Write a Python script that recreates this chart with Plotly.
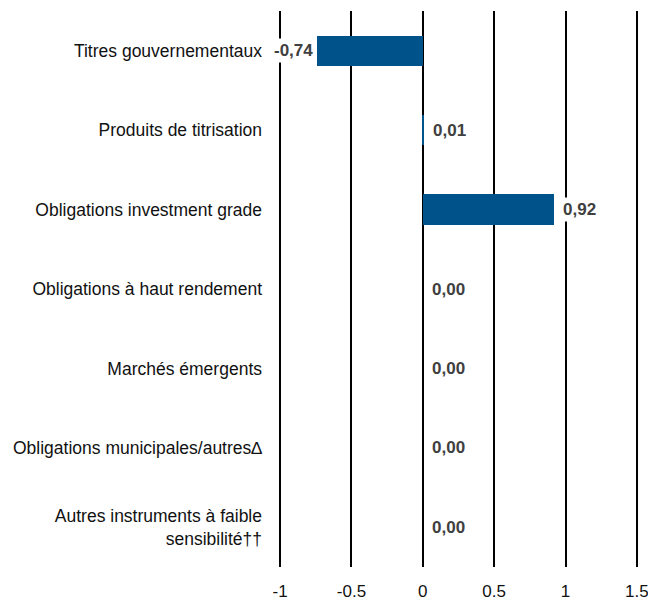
import plotly.graph_objects as go

categories = [
    "Titres gouvernementaux",
    "Produits de titrisation",
    "Obligations investment grade",
    "Obligations à haut rendement",
    "Marchés émergents",
    "Obligations municipales/autres∆",
    "Autres instruments à faible<br>sensibilité††",
]
values = [-0.74, 0.01, 0.92, 0.00, 0.00, 0.00, 0.00]
value_labels = ["-0,74", "0,01", "0,92", "0,00", "0,00", "0,00", "0,00"]
tick_vals = [-1, -0.5, 0, 0.5, 1, 1.5]
tick_text = ["-1", "-0.5", "0", "0.5", "1", "1.5"]

FONT = "Liberation Sans, Arial, sans-serif"
BAR = "#00538A"

fig = go.Figure()
fig.add_trace(go.Bar(
    x=values, y=categories, orientation="h",
    marker=dict(color=BAR, line=dict(width=0)),
    width=0.38, hoverinfo="skip",
))

for c, v, t in zip(categories, values, value_labels):
    neg = v < 0
    fig.add_annotation(
        x=v, y=c, xref="x", yref="y", text="<b>" + t + "</b>",
        showarrow=False, xanchor="right" if neg else "left",
        xshift=-1 if neg else 6, bgcolor="white", borderpad=2,
        font=dict(family=FONT, size=17, color="#404040"),
    )

fig.update_layout(
    width=648, height=600,
    margin=dict(l=273, r=4, t=11, b=33),
    paper_bgcolor="white", plot_bgcolor="white",
    showlegend=False, bargap=0, hovermode=False,
    font=dict(family=FONT, size=17.5, color="#111111"),
)
fig.update_xaxes(
    range=[-1.05, 1.55], tickvals=tick_vals, ticktext=tick_text,
    showgrid=True, gridcolor="black", gridwidth=2,
    zeroline=True, zerolinecolor="black", zerolinewidth=2,
    showline=False, ticks="", ticklabelstandoff=12, automargin=False,
    ticklabeloverflow="allow",
    tickfont=dict(family=FONT, size=17, color="#111111"),
)
fig.update_yaxes(
    categoryorder="array", categoryarray=categories[::-1],
    showgrid=False, zeroline=False, showline=False, ticks="",
    ticklabelstandoff=10, automargin=False, ticklabeloverflow="allow",
    tickfont=dict(family=FONT, size=17.5, color="#111111"),
)

fig.write_html(
    "out.html",
    config={"displayModeBar": False},
    post_script="document.body.style.margin='0';document.body.style.overflow='hidden';",
)
